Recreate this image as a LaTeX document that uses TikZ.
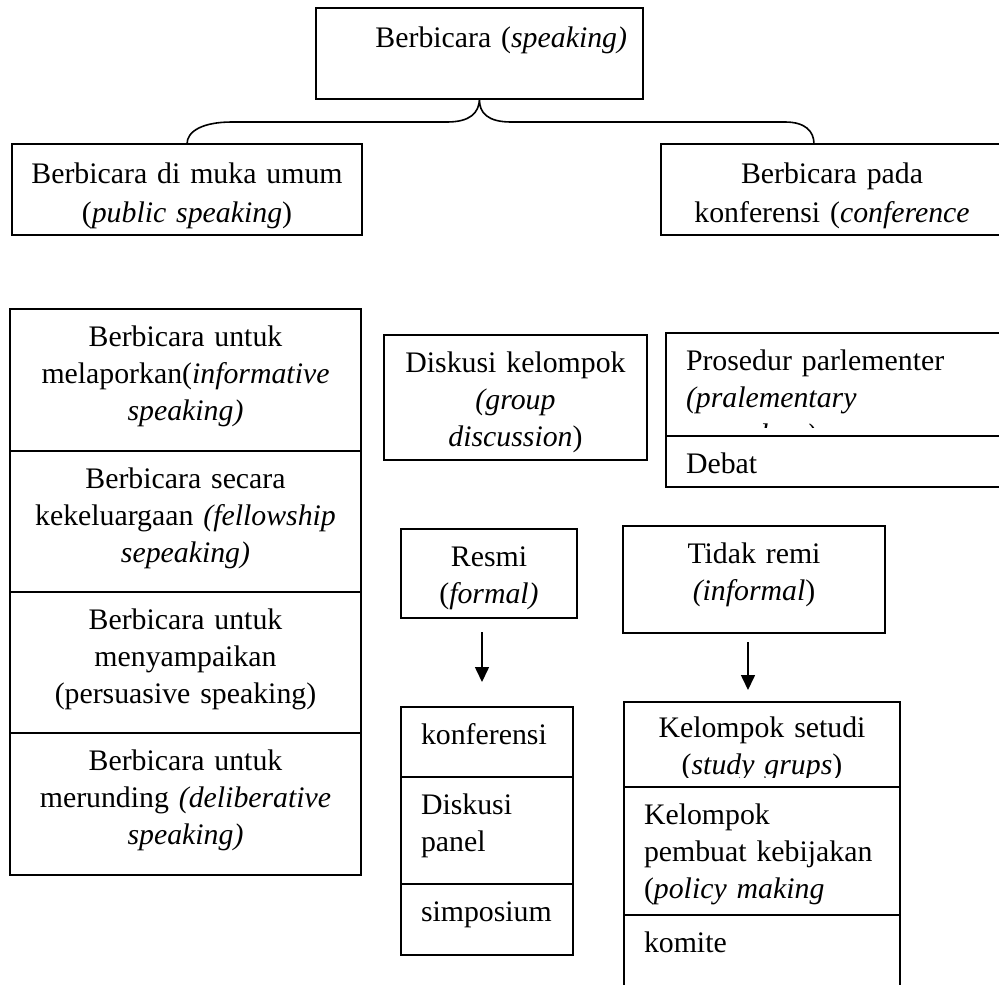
\documentclass[tikz,border=0pt]{standalone}
\usepackage{fontspec}
\setmainfont{Liberation Serif}
\usetikzlibrary{arrows.meta}

\begin{document}
\begin{tikzpicture}[x=1pt, y=-1pt, line width=1.6pt,
    every node/.style={font=\fontsize{29.8}{37}\selectfont, inner sep=0pt, outer sep=0pt, anchor=north west, text height=37pt},
    box/.style={draw},
    mid/.style={align=center},
    lft/.style={align=left, inner xsep=20pt},
    tall/.style={font=\fontsize{29.8}{39}\selectfont, text height=39pt},
    arr/.style={-{Triangle[length=15pt,width=14pt]}}]
    \useasboundingbox (0,0) rectangle (999,985);

    \node[box, align=right, tall, inner xsep=16pt, text width=295pt, text depth=52pt] (speak) at (316,8) {Berbicara (\textit{speaking)}};
    \node[box, mid, tall, text width=350pt, text depth=52pt] (pub) at (12,144) {Berbicara di muka umum\\(\textit{public speaking})};
    \node[box, mid, tall, text width=342pt, text depth=52pt] (conf) at (661,144) {Berbicara pada\\konferensi (\textit{conference}};
    \coordinate (cjoin) at (814,144);
    \draw (pub.north) .. controls (187,131) and (203,122) .. (232,122) -- (447,122)
        .. controls (470,122) and (479,113) .. (speak.south)
        .. controls (479,113) and (488,122) .. (511,122) -- (785,122)
        .. controls (805,122) and (814,131) .. (cjoin);

    \node[box, mid, text width=351pt, text depth=105pt] (lapor) at (10,309) {Berbicara untuk\\melaporkan(\textit{informative}\\\textit{speaking)}};
    \node[box, mid, text width=351pt, text depth=104pt] (akrab) at (lapor.south west) {Berbicara secara\\kekeluargaan \textit{(fellowship}\\\textit{sepeaking)}};
    \node[box, mid, text width=351pt, text depth=104pt] (ajak) at (akrab.south west) {Berbicara untuk\\menyampaikan\\(persuasive speaking)};
    \node[box, mid, text width=351pt, text depth=105pt] (runding) at (ajak.south west) {Berbicara untuk\\merunding \textit{(deliberative}\\\textit{speaking)}};

    \node[box, mid, text width=263pt, text depth=88pt] (grup) at (384,335) {Diskusi kelompok\\\textit{(group}\\\textit{discussion})};

    \node[box, text width=350pt, text depth=66pt] (parl) at (666,333) {};
    \begin{scope}
        \clip (parl.north west) rectangle ([yshift=9pt]parl.south east);
        \node[lft, text width=310pt] (parltext) at (parl.north west) {Prosedur parlementer\\\textit{(pralementary}\\\textit{procedure)}};
    \end{scope}
    \node[box, lft, text width=310pt, text depth=14pt] (debat) at (parl.south west) {Debat};

    \node[box, mid, text width=176pt, text depth=52pt] (resmi) at (401,529) {Resmi\\(\textit{formal)}};
    \node[box, mid, text width=262pt, text depth=70pt] (takresmi) at (623,526) {Tidak remi\\\textit{(informal})};

    \node[box, lft, text width=132pt, text depth=33pt] (konf) at (401,707) {konferensi};
    \node[box, lft, text width=132pt, text depth=70pt] (panel) at (konf.south west) {Diskusi\\panel};
    \node[box, lft, text width=132pt, text depth=34pt] (simpo) at (panel.south west) {simposium};

    \node[box, text width=276pt, text depth=48pt] (studi) at (624,702) {};
    \begin{scope}
        \clip (studi.north west) rectangle ([yshift=10pt]studi.south east);
        \node[mid, text width=276pt, text height=35pt] (studitext) at (studi.north west) {Kelompok setudi\\(\textit{study grups})};
    \end{scope}
    \node[box, lft, text width=236pt, text depth=91pt] (bijak) at (studi.south west) {Kelompok\\pembuat kebijakan\\(\textit{policy making}};
    \draw[line width=2.8pt] (bijak.south west) -- (bijak.south east);
    \node[box, lft, text width=236pt, text depth=63pt] (komite) at (bijak.south west) {komite};

    \draw[arr, shorten <=14pt, shorten >=25pt] ([xshift=-7pt]resmi.south) -- ([xshift=-5pt]konf.north);
    \draw[arr, shorten <=9pt, shorten >=12pt] ([xshift=-6pt]takresmi.south) -- ([xshift=-14pt]studi.north);
\end{tikzpicture}
\end{document}
